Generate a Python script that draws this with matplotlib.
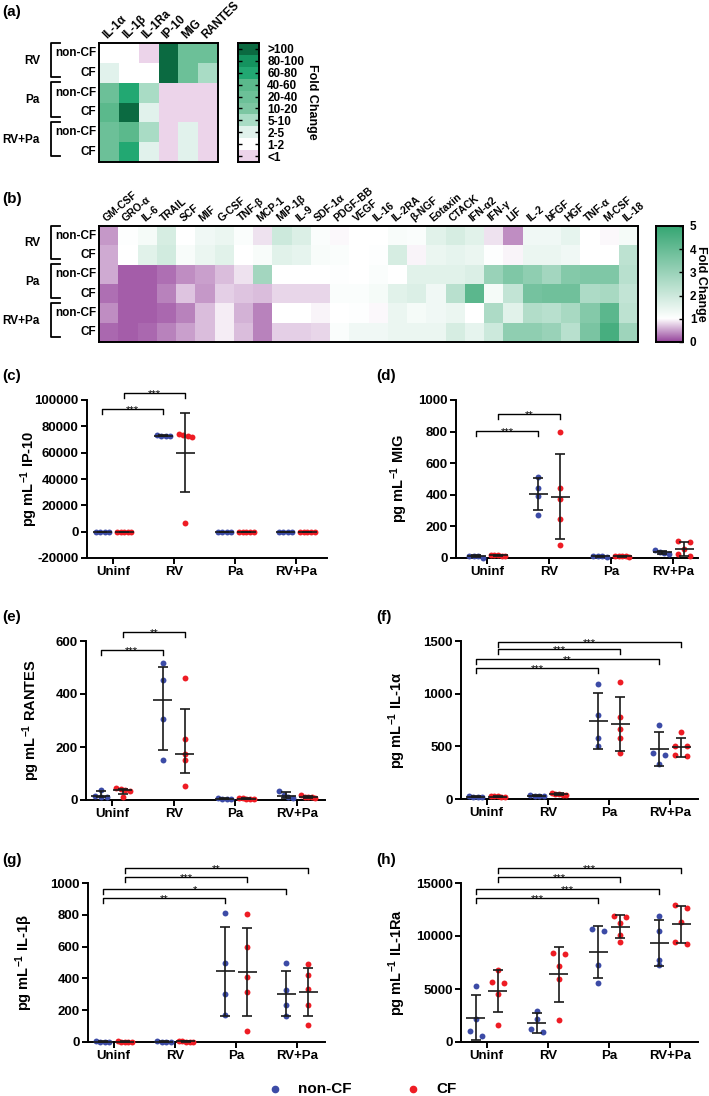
import numpy as np
import matplotlib
matplotlib.use('Agg')
import matplotlib.pyplot as plt
from matplotlib.colors import ListedColormap, BoundaryNorm, LinearSegmentedColormap
from matplotlib.lines import Line2D

plt.rcParams['font.family'] = ['Liberation Sans', 'DejaVu Sans']
plt.rcParams['font.weight'] = 'bold'
plt.rcParams['axes.labelweight'] = 'bold'
plt.rcParams['mathtext.fontset'] = 'custom'
plt.rcParams['mathtext.rm'] = 'Liberation Sans:bold'
plt.rcParams['mathtext.bf'] = 'Liberation Sans:bold'
plt.rcParams['mathtext.it'] = 'Liberation Sans:bold:italic'

# ---------------- data ----------------
groups = ['RV', 'Pa', 'RV+Pa']
subgroups = ['non-CF', 'CF']

# panel (a): fold-change category index per cell (0:'<1' ... 9:'>100')
a_cols = ['IL-1α', 'IL-1β', 'IL-1Ra', 'IP-10', 'MIG', 'RANTES']
a_levels = ['<1', '1-2', '2-5', '5-10', '10-20', '20-40', '40-60', '60-80', '80-100', '>100']
a_colors = ['#ecd4ea', '#ffffff', '#e1f2ec', '#a9dcc5', '#7cc6a2', '#6cc098', '#5bb98c',
            '#22a872', '#14935f', '#0b6a41']
a_rv_noncf = [1, 1, 0, 9, 5, 5]
a_rv_cf = [2, 1, 1, 9, 5, 3]
a_pa_noncf = [5, 7, 3, 0, 0, 0]
a_pa_cf = [6, 9, 2, 0, 0, 0]
a_rvpa_noncf = [5, 6, 3, 0, 2, 0]
a_rvpa_cf = [5, 7, 2, 0, 2, 0]

# panel (b): fold change
b_cols = ['GM-CSF', 'GRO-α', 'IL-6', 'TRAIL', 'SCF', 'MIF', 'G-CSF', 'TNF-β', 'MCP-1', 'MIP-1β',
          'IL-9', 'SDF-1α', 'PDGF-BB', 'VEGF', 'IL-16', 'IL-2RA', 'β-NGF', 'Eotaxin', 'CTACK',
          'IFN-α2', 'IFN-γ', 'LIF', 'IL-2', 'bFGF', 'HGF', 'TNF-α', 'M-CSF', 'IL-18']
b_rv_noncf = [0.45, 1.05, 1.2, 1.8, 1.0, 1.3, 1.4, 1.1, 0.85, 2.0, 1.7, 1.1, 0.97, 1.0, 1.0, 1.15,
              1.1, 1.6, 1.8, 1.6, 0.85, 0.4, 1.3, 1.3, 1.5, 1.0, 0.97, 1.2]
b_rv_cf = [0.55, 1.0, 1.6, 1.9, 1.15, 1.4, 1.6, 1.0, 1.15, 1.6, 1.5, 1.15, 1.1, 1.0, 1.05, 1.8,
           0.95, 1.4, 1.5, 1.4, 1.05, 0.95, 1.4, 1.4, 1.3, 1.0, 1.0, 2.3]
b_pa_noncf = [0.55, 0.15, 0.15, 0.25, 0.4, 0.5, 0.65, 0.85, 2.8, 1.0, 1.0, 1.0, 1.05, 1.0, 1.1, 1.0,
              1.6, 1.6, 1.6, 1.7, 3.0, 3.5, 3.2, 2.8, 3.4, 3.5, 3.5, 2.4]
b_pa_cf = [0.25, 0.15, 0.15, 0.35, 0.7, 0.45, 0.75, 0.7, 0.65, 0.8, 0.8, 0.8, 1.1, 1.1, 1.2, 1.6,
           1.7, 1.3, 2.4, 4.2, 1.2, 2.2, 3.7, 3.8, 3.8, 2.6, 2.7, 2.2]
b_rvpa_noncf = [0.4, 0.15, 0.15, 0.2, 0.35, 0.65, 0.9, 0.6, 0.35, 1.0, 1.0, 0.95, 1.0, 1.05, 0.97,
                1.4, 1.2, 1.3, 1.4, 1.0, 2.6, 1.6, 2.5, 2.4, 2.7, 3.4, 4.2, 2.3]
b_rvpa_cf = [0.2, 0.15, 0.2, 0.35, 0.5, 0.65, 0.9, 0.65, 0.35, 0.75, 0.75, 0.8, 1.1, 1.3, 1.3, 1.4,
             1.4, 1.4, 1.8, 1.5, 2.0, 3.2, 3.2, 3.0, 2.4, 3.6, 4.6, 2.9]

# dot plots
conditions = ['Uninf', 'RV', 'Pa', 'RV+Pa']
ip10_noncf = [[60, 100, 80, 50], [72500, 73200, 73000, 72800], [40, 60, 50, 30], [50, 80, 40, 60]]
ip10_cf = [[50, 80, 60, 40, 70], [74500, 73500, 73000, 72000, 6500], [30, 50, 40, 60, 20],
           [40, 60, 30, 50, 70]]
mig_noncf = [[3, 15, 14, 12], [515, 440, 390, 272], [10, 12, 8, 10], [48, 38, 30, 25]]
mig_cf = [[18, 22, 20, 12, 15], [799, 445, 371, 245, 82], [10, 15, 12, 8, 10], [110, 100, 55, 10, 25]]
rantes_noncf = [[38, 15, 12, 10], [518, 452, 305, 152], [5, 5, 4, 6], [35, 20, 12, 8]]
rantes_cf = [[45, 40, 38, 35, 12], [459, 229, 172, 151, 53], [5, 6, 4, 5, 6], [18, 12, 10, 8, 10]]
il1a_noncf = [[20, 25, 15, 22], [30, 35, 28, 32], [1092, 798, 576, 506], [707, 434, 420, 332]]
il1a_cf = [[25, 30, 20, 15, 28], [55, 45, 40, 35, 48], [1108, 781, 665, 576, 434],
           [633, 506, 500, 415, 410]]
il1b_noncf = [[2, 3, 2, 4], [3, 2, 4, 3], [813, 495, 302, 170], [495, 327, 233, 164]]
il1b_cf = [[3, 2, 4, 3, 2], [4, 3, 5, 3, 2], [803, 600, 411, 313, 70], [489, 421, 331, 233, 106]]
il1ra_noncf = [[5300, 2200, 1000, 600], [2900, 2200, 1200, 900], [10650, 10450, 7250, 5600],
               [11850, 10450, 7750, 7250]]
il1ra_cf = [[6800, 5700, 5600, 4500, 1600], [8400, 8300, 7200, 5900, 2100],
            [11900, 11800, 11200, 10100, 9450], [12950, 12600, 11350, 9400, 9250]]

# significance brackets: (cond1, group1, cond2, group2, height, label)
c_sig = [(0, 'n', 1, 'n', 93000, '***'), (0, 'c', 1, 'c', 105300, '***')]
d_sig = [(0, 'n', 1, 'n', 804, '***'), (0, 'c', 1, 'c', 911, '**')]
e_sig = [(0, 'n', 1, 'n', 566, '***'), (0, 'c', 1, 'c', 635, '**')]
f_sig = [(0, 'c', 3, 'c', 1493, '***'), (0, 'c', 2, 'c', 1422, '***'),
         (0, 'n', 3, 'n', 1330, '**'), (0, 'n', 2, 'n', 1241, '***')]
g_sig = [(0, 'c', 3, 'c', 1096, '**'), (0, 'c', 2, 'c', 1036, '***'),
         (0, 'n', 3, 'n', 962, '*'), (0, 'n', 2, 'n', 904, '**')]
h_sig = [(0, 'c', 3, 'c', 16387, '***'), (0, 'c', 2, 'c', 15538, '***'),
         (0, 'n', 3, 'n', 14434, '***'), (0, 'n', 2, 'n', 13557, '***')]

BLUE = '#3c4ba6'
RED = '#ee1c24'

# ---------------- figure helpers ----------------
W, H = 709, 1096
fig = plt.figure(figsize=(W / 100, H / 100), dpi=100)


def box(l, t, r, b):
    return fig.add_axes([l / W, 1 - b / H, (r - l) / W, (b - t) / H])


def ftext(x, y, s, **kw):
    fig.text(x / W, 1 - y / H, s, **kw)


def fline(xs, ys, **kw):
    fig.add_artist(Line2D([x / W for x in xs], [1 - y / H for y in ys], **kw))


def group_labels(top, rh):
    for g, name in enumerate(groups):
        gt = top + 2 * g * rh
        y1 = gt - 0.5
        y2 = gt + 1.72 * rh
        fline([60, 50.5, 50.5, 60], [y1, y1, y2, y2], color='k', lw=1.3)
        ftext(40, (y1 + y2) / 2 + 1, name, ha='right', va='center', fontsize=8.5)
        for k, sub in enumerate(subgroups):
            ftext(96, gt + (k + 0.5) * rh, sub, ha='right', va='center', fontsize=8.5)


# ---------------- panel (a) ----------------
ftext(2, 12, '(a)', ha='left', va='center', fontsize=11)
a_data = np.array([a_rv_noncf, a_rv_cf, a_pa_noncf, a_pa_cf, a_rvpa_noncf, a_rvpa_cf])
a_cmap = ListedColormap(a_colors)
a_norm = BoundaryNorm(np.arange(-0.5, 10.5, 1), 10)
axa = box(99, 43, 218, 162)
axa.pcolormesh(a_data, cmap=a_cmap, norm=a_norm)
axa.set_xlim(0, 6)
axa.set_ylim(6, 0)
axa.set_xticks([])
axa.set_yticks([])
for s in axa.spines.values():
    s.set_linewidth(1.4)
for j, name in enumerate(a_cols):
    axa.text(j + 0.5, -0.1, name, rotation=45, ha='left', va='bottom',
             rotation_mode='anchor', fontsize=8.3)
group_labels(43, 119 / 6)

caxa = box(238, 43, 259, 162)
caxa.pcolormesh(np.arange(10).reshape(-1, 1), cmap=a_cmap, norm=a_norm)
caxa.set_ylim(0, 10)
caxa.set_xticks([])
caxa.yaxis.tick_right()
caxa.set_yticks(np.arange(10) + 0.5)
caxa.set_yticklabels(a_levels, fontsize=8.5)
caxa.tick_params(axis='y', direction='in', length=3, width=1, left=True, right=True, pad=6)
for s in caxa.spines.values():
    s.set_linewidth(1.4)
ftext(312, 102, 'Fold Change', rotation=-90, ha='center', va='center', fontsize=9)

# ---------------- panel (b) ----------------
ftext(2, 199, '(b)', ha='left', va='center', fontsize=11)
b_data = np.array([b_rv_noncf, b_rv_cf, b_pa_noncf, b_pa_cf, b_rvpa_noncf, b_rvpa_cf])
b_cmap = LinearSegmentedColormap.from_list('pw', [(0, '#95439b'), (0.2, '#ffffff'), (1.0, '#33a571')])
axb = box(99, 226, 638, 342)
axb.pcolormesh(b_data, cmap=b_cmap, vmin=0, vmax=5)
axb.set_xlim(0, len(b_cols))
axb.set_ylim(6, 0)
axb.set_xticks([])
axb.set_yticks([])
for s in axb.spines.values():
    s.set_linewidth(1.4)
for j, name in enumerate(b_cols):
    axb.text(j + 0.45, -0.15, name, rotation=40, ha='left', va='bottom',
             rotation_mode='anchor', fontsize=7.5)
group_labels(226, 116 / 6)

caxb = box(656, 226, 683, 342)
grad = np.linspace(0, 5, 256).reshape(-1, 1)
caxb.imshow(grad, cmap=b_cmap, vmin=0, vmax=5, aspect='auto', origin='lower',
            extent=[0, 1, 0, 5])
caxb.set_xticks([])
caxb.yaxis.tick_right()
caxb.set_yticks(range(6))
caxb.set_yticklabels([str(i) for i in range(6)], fontsize=8.5)
caxb.tick_params(axis='y', direction='in', length=3, width=1, pad=5)
for s in caxb.spines.values():
    s.set_linewidth(1.4)
ftext(701, 284, 'Fold Change', rotation=-90, ha='center', va='center', fontsize=9)


# ---------------- dot plots ----------------
def swarm_offsets(vals, ppu_y, ppu_x):
    vals = np.asarray(vals, float)
    order = np.argsort(-vals)
    offs = np.zeros(len(vals))
    clusters = []
    cur = [order[0]]
    for i in order[1:]:
        if abs(vals[cur[-1]] - vals[i]) * ppu_y < 4.5:
            cur.append(i)
        else:
            clusters.append(cur)
            cur = [i]
    clusters.append(cur)
    for cl in clusters:
        k = len(cl)
        if k == 1:
            continue
        width = 12 + 0.75 * (k - 2)
        pos = np.linspace(-width / 2, width / 2, k)
        for j, idx in enumerate(cl):
            offs[idx] = pos[j] / ppu_x
    return offs


def dotplot(px, label, lpos, noncf, cf, ylim, yticks, ylabel, lab_x, sig,
            xlim=(-0.42, 3.45), summary='mean_sd'):
    l, t, r, b = px
    ftext(lpos[0], lpos[1], label, ha='left', va='center', fontsize=11)
    ax = box(l, t, r, b)
    ax.set_xlim(*xlim)
    ax.set_ylim(*ylim)
    ppu_y = (b - t) / (ylim[1] - ylim[0])
    ppu_x = (r - l) / (xlim[1] - xlim[0])
    off = 11 / ppu_x
    for data, color, sgn in [(noncf, BLUE, -1), (cf, RED, 1)]:
        for ci, vals in enumerate(data):
            xc = ci + sgn * off
            xo = swarm_offsets(vals, ppu_y, ppu_x)
            ax.scatter(xc + xo, vals, s=18, color=color, zorder=3, clip_on=False, linewidths=0)
            v = np.asarray(vals, float)
            if summary == 'mean_sd':
                c = v.mean()
                sd = v.std(ddof=1)
                lo, hi = c - sd, c + sd
            else:
                c = np.median(v)
                lo, hi = np.percentile(v, [25, 75], method='weibull')
            hw = 9.5 / ppu_x
            cw = 5 / ppu_x
            kw = dict(color='#1a1a1a', lw=1.2, zorder=4, clip_on=False, solid_capstyle='butt')
            ax.plot([xc - hw, xc + hw], [c, c], **kw)
            ax.plot([xc, xc], [lo, hi], **kw)
            ax.plot([xc - cw, xc + cw], [lo, lo], **kw)
            ax.plot([xc - cw, xc + cw], [hi, hi], **kw)
    for c1, g1, c2, g2, yv, txt in sig:
        x1 = c1 + (-off if g1 == 'n' else off)
        x2 = c2 + (-off if g2 == 'n' else off)
        leg = 5 / ppu_y
        ax.plot([x1, x1, x2, x2], [yv - leg, yv, yv, yv - leg], color='k', lw=1.0, clip_on=False)
        ax.text((x1 + x2) / 2, yv - 4 / ppu_y, txt, ha='center', va='baseline',
                fontsize=8, fontweight='normal')
    ax.set_xticks(range(4))
    ax.set_xticklabels(conditions, fontsize=9.5, fontweight='bold')
    ax.set_yticks(yticks)
    ax.set_yticklabels([str(y) for y in yticks], fontsize=9.5, fontweight='bold')
    for side in ['top', 'right']:
        ax.spines[side].set_visible(False)
    for side in ['left', 'bottom']:
        ax.spines[side].set_linewidth(1.4)
    ax.tick_params(length=4, width=1.4, pad=2)
    ax.set_ylabel(ylabel, fontsize=10.5, fontweight='bold')
    ax.yaxis.set_label_coords(lab_x, 0.5)
    return ax


dotplot((87, 400, 327, 558), '(c)', (2, 376), ip10_noncf, ip10_cf, (-20000, 100000),
        list(range(-20000, 100001, 20000)), r'pg mL$^{\mathbf{-1}}$ IP-10', -0.196, c_sig,
        xlim=(-0.43, 3.5))
dotplot((456, 400, 698, 558), '(d)', (376, 376), mig_noncf, mig_cf, (0, 1000),
        list(range(0, 1001, 200)), r'pg mL$^{\mathbf{-1}}$ MIG', -0.19, d_sig,
        xlim=(-0.5, 3.4))
dotplot((86, 641, 325, 800), '(e)', (2, 617), rantes_noncf, rantes_cf, (0, 600),
        list(range(0, 601, 200)), r'pg mL$^{\mathbf{-1}}$ RANTES', -0.184, e_sig,
        summary='median_iqr')
dotplot((461, 641, 698, 799), '(f)', (376, 617), il1a_noncf, il1a_cf, (0, 1500),
        [0, 500, 1000, 1500], r'pg mL$^{\mathbf{-1}}$ IL-1α', -0.224, f_sig)
dotplot((88, 883, 325, 1042), '(g)', (2, 860), il1b_noncf, il1b_cf, (0, 1000),
        list(range(0, 1001, 200)), r'pg mL$^{\mathbf{-1}}$ IL-1β', -0.224, g_sig)
dotplot((461, 883, 698, 1042), '(h)', (376, 860), il1ra_noncf, il1ra_cf, (0, 15000),
        [0, 5000, 10000, 15000], r'pg mL$^{\mathbf{-1}}$ IL-1Ra', -0.224, h_sig)

# ---------------- legend ----------------
for xm, color, name in [(275, BLUE, 'non-CF'), (413, RED, 'CF')]:
    fig.add_artist(Line2D([xm / W], [1 - 1089 / H], marker='o', markersize=4.5, color=color,
                          linestyle='none'))
    ftext(xm + 23, 1089, name, ha='left', va='center', fontsize=11)

fig.savefig('out.png', dpi=100)
